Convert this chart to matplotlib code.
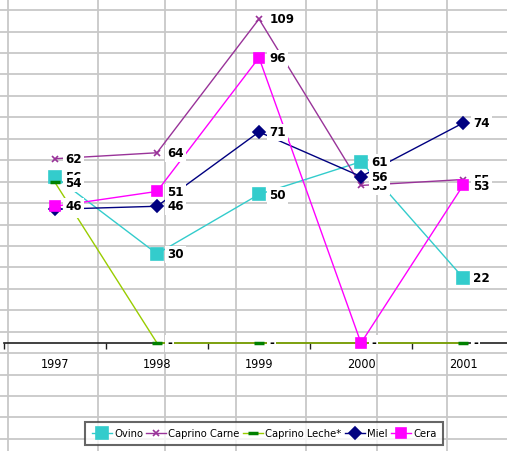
import matplotlib.pyplot as plt
from matplotlib.lines import Line2D

# data
years = ['1997', '1998', '1999', '2000', '2001']
ovino = [56, 30, 50, 61, 22]
caprino_carne = [62, 64, 109, 53, 55]
caprino_leche = [54, 0, 0, 0, 0]
miel = [45, 46, 71, 56, 74]
cera = [46, 51, 96, 0, 53]

series = [
    ('Ovino', ovino, '#33CCCC', '#33CCCC', 's', 9),
    ('Caprino Carne', caprino_carne, '#993399', '#993399', 'x', 5),
    ('Caprino Leche*', caprino_leche, '#99CC00', '#008000', '_', 7),
    ('Miel', miel, '#000080', '#000080', 'D', 6),
    ('Cera', cera, '#FF00FF', '#FF00FF', 's', 7),
]

W, H = 507, 451
fig = plt.figure(figsize=(W / 100, H / 100), dpi=100)
fig.patch.set_facecolor('white')

# spreadsheet cells behind the chart
bg = fig.add_axes([0, 0, 1, 1], zorder=0)
bg.set_xlim(0, W)
bg.set_ylim(H, 0)
bg.axis('off')
for k in range(21):
    bg.axhline(10.2 + 21.43 * k, color='#C8C8C8', lw=1.3)
for xc in [8, 98, 165, 236, 306, 377, 447]:
    bg.axvline(xc, color='#C8C8C8', lw=1.3)

# chart axes: 0 at y=343px, 109 at y=19px, categories 102px apart
ppu = (343 - 19) / 109
ymax = 115
ax = fig.add_axes([4 / W, (H - 343) / H, 510 / W, ymax * ppu / H], zorder=1)
ax.patch.set_alpha(0)
x = list(range(len(years)))
ax.set_xlim(-0.5, 4.5)
ax.set_ylim(0, ymax)

font = dict(family='DejaVu Sans', stretch='condensed')
handles = []
for i, (name, vals, lc, mc, mk, ms) in enumerate(series):
    mew = 2.5 if mk == '_' else 1.2
    ax.plot(x, vals, color=lc, lw=1, marker=mk, ms=ms, mfc=mc, mec=mc,
            mew=mew, zorder=3 + i, clip_on=False)
    handles.append(Line2D([], [], color=lc, lw=1, marker=mk, ms=ms,
                          mfc=mc, mec=mc, mew=mew))

for i, (name, vals, lc, mc, mk, ms) in enumerate(series):
    for xi, v in zip(x, vals):
        txt = str(v) if v != 0 else '-'
        ax.annotate(txt, (xi, v), xytext=(7.5, -0.5), textcoords='offset points',
                    ha='left', va='center', fontsize=9.5, fontweight='bold',
                    color='black', zorder=20 + i, **font,
                    bbox=dict(boxstyle='square,pad=0.15', fc='white', ec='none'),
                    annotation_clip=False)

for s in ['top', 'right', 'left']:
    ax.spines[s].set_visible(False)
ax.spines['bottom'].set_color('#202020')
ax.spines['bottom'].set_linewidth(1.2)
ax.set_yticks([])
ax.set_xticks(x)
ax.set_xticklabels(years, fontsize=9, **font)
ax.set_xticks([-0.5, 0.5, 1.5, 2.5, 3.5, 4.5], minor=True)
ax.tick_params(axis='x', which='major', length=0, pad=11)
ax.tick_params(axis='x', which='minor', length=4, width=1, color='#202020', direction='out')

leg = fig.legend(handles, [s[0] for s in series], loc='upper left',
                 bbox_to_anchor=(85 / W, (H - 422) / H), ncol=5,
                 prop=dict(size=8, **font), frameon=True,
                 fancybox=False, edgecolor='#404040', handlelength=1.8,
                 handletextpad=0.2, columnspacing=0.3, borderpad=0.6,
                 borderaxespad=0)
leg.get_frame().set_linewidth(1.5)

plt.savefig('out.png', dpi=100)
